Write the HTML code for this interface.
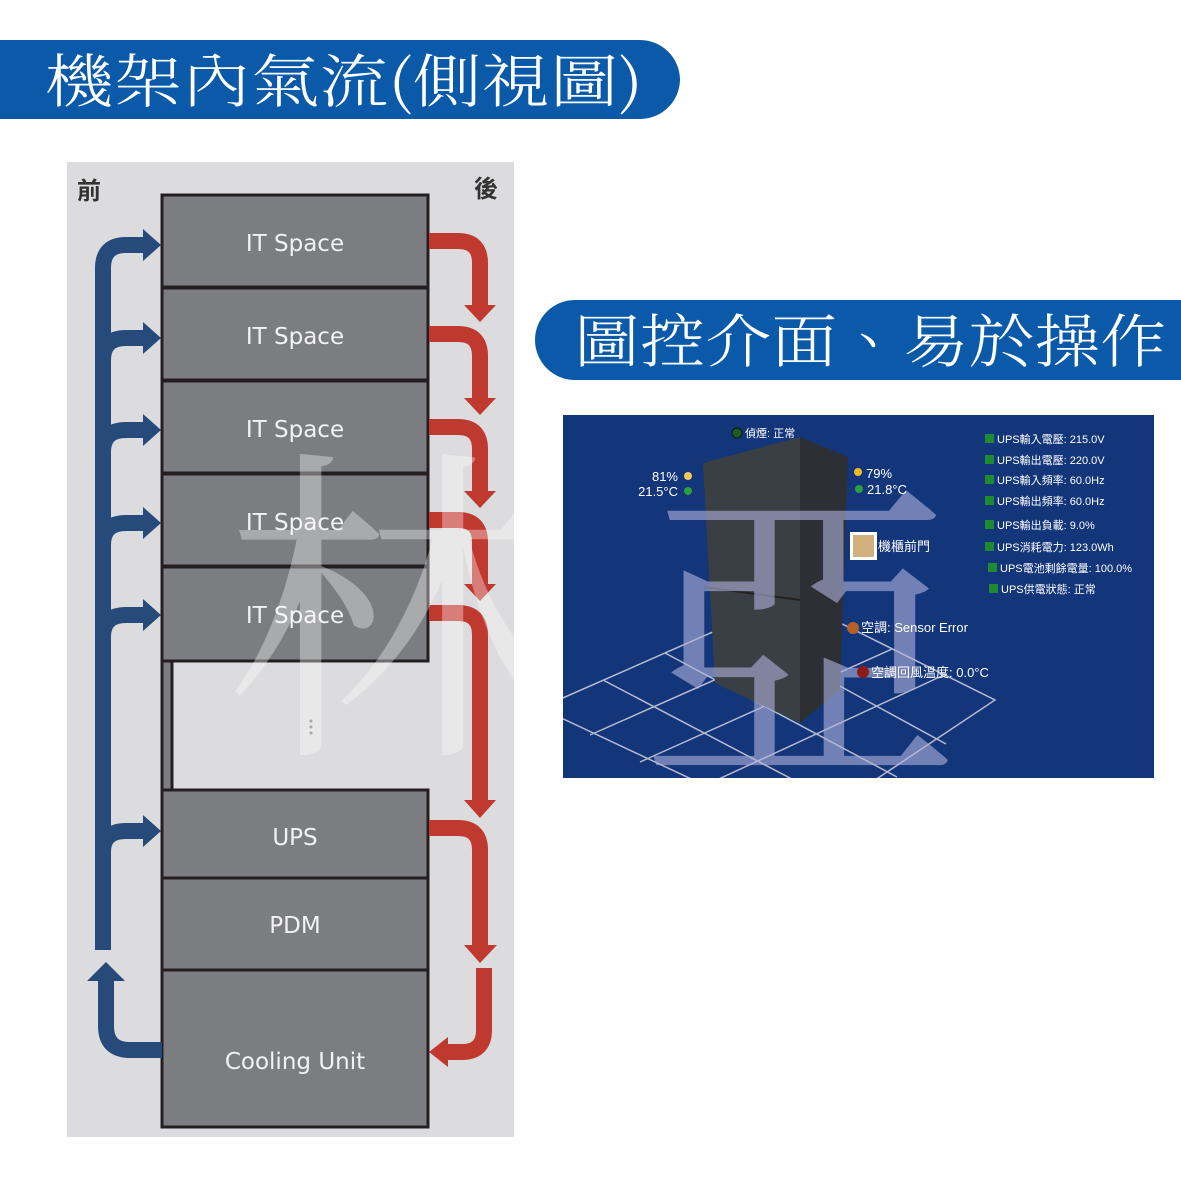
<!DOCTYPE html>
<html><head><meta charset="utf-8"><style>
html,body{margin:0;padding:0;background:#fff;width:1181px;height:1181px;overflow:hidden}
svg{display:block}
</style></head><body>
<svg width="1181" height="1181" viewBox="0 0 1181 1181" xmlns="http://www.w3.org/2000/svg">
<defs>
<clipPath id="ic"><rect x="563" y="415" width="591" height="363"/></clipPath>
</defs>
<!-- Banner 1 -->
<path d="M0,40 H640 A40,40 0 0 1 680,80 A40,40 0 0 1 640,119 H0 Z" fill="#0b5aa9"/>
<text x="45" y="102" fill="#fff" font-family="'Noto Serif CJK TC','Noto Serif CJK SC',serif" font-weight="300" font-size="58" textLength="598" lengthAdjust="spacingAndGlyphs">機架內氣流(側視圖)</text>
<!-- Banner 2 -->
<path d="M1181,300 H575 A40,40 0 0 0 535,340 A40,40 0 0 0 575,380 H1181 Z" fill="#0b5aa9"/>
<text x="574" y="362" fill="#fff" font-family="'Noto Serif CJK TC','Noto Serif CJK SC',serif" font-weight="300" font-size="58" textLength="592" lengthAdjust="spacingAndGlyphs">圖控介面、易於操作</text>

<!-- Left panel -->
<rect x="67" y="162" width="447" height="975" fill="#dcdcde"/>
<text x="77" y="199" font-family="'Noto Sans CJK TC',sans-serif" font-weight="bold" font-size="24" fill="#333">前</text>
<text x="474" y="197" font-family="'Noto Sans CJK TC',sans-serif" font-weight="bold" font-size="24" fill="#333">後</text>

<g stroke="#231f20" stroke-width="3" fill="#7c7d80">
<rect x="162" y="195" width="266" height="92"/>
<rect x="162" y="288" width="266" height="92"/>
<rect x="162" y="381" width="266" height="92"/>
<rect x="162" y="474" width="266" height="92"/>
<rect x="162" y="567" width="266" height="94"/>
<rect x="162" y="661" width="10" height="129"/>
<rect x="162" y="790" width="266" height="88"/>
<rect x="162" y="878" width="266" height="92"/>
<rect x="162" y="970" width="266" height="157"/>
</g>
<g fill="#f2f2f2" font-family="'DejaVu Sans','Liberation Sans',sans-serif" font-size="23" text-anchor="middle">
<text x="295" y="251">IT Space</text>
<text x="295" y="344">IT Space</text>
<text x="295" y="437">IT Space</text>
<text x="295" y="530">IT Space</text>
<text x="295" y="623">IT Space</text>
<text x="295" y="845">UPS</text>
<text x="295" y="933">PDM</text>
<text x="295" y="1069">Cooling Unit</text>
</g>
<g fill="#777"><circle cx="311" cy="721" r="1.5"/><circle cx="311" cy="727" r="1.5"/><circle cx="311" cy="733" r="1.5"/></g>

<!-- Blue arrows -->
<g stroke="#264a7a" stroke-width="16" fill="none">
<path d="M103,950 V268 Q103,245 126,245 H146"/>
<path d="M103,360 Q103,338 126,338 H146"/>
<path d="M103,452 Q103,430 126,430 H146"/>
<path d="M103,545 Q103,523 126,523 H146"/>
<path d="M103,637 Q103,615 126,615 H146"/>
<path d="M103,852 Q103,831 126,831 H146"/>
<path d="M162,1050 H130 Q106,1050 106,1026 V978"/>
</g>
<g fill="#264a7a">
<polygon points="143,229 161,245 143,261"/>
<polygon points="143,322 161,338 143,354"/>
<polygon points="143,414 161,430 143,446"/>
<polygon points="143,507 161,523 143,539"/>
<polygon points="143,599 161,615 143,631"/>
<polygon points="143,815 161,831 143,847"/>
<polygon points="87,981 106,962 125,981"/>
</g>

<!-- Red arrows -->
<g stroke="#c0392f" stroke-width="16" fill="none">
<path d="M429,241 H458 Q480,241 480,263 V306"/>
<path d="M429,334 H458 Q480,334 480,356 V399"/>
<path d="M429,427 H458 Q480,427 480,449 V492"/>
<path d="M429,520 H458 Q480,520 480,542 V585"/>
<path d="M429,613 H458 Q480,613 480,635 V800"/>
<path d="M429,828 H458 Q480,828 480,850 V946"/>
<path d="M484,968 V1030 Q484,1052 462,1052 H445"/>
</g>
<g fill="#c0392f">
<polygon points="464,305 496,305 480,322"/>
<polygon points="464,398 496,398 480,415"/>
<polygon points="464,491 496,491 480,508"/>
<polygon points="464,584 496,584 480,601"/>
<polygon points="464,800 496,800 480,818"/>
<polygon points="464,945 497,945 480,963"/>
<polygon points="448,1037 429,1052 448,1067"/>
</g>
<!-- watermark 林 -->
<text x="225" y="730" font-family="'Noto Serif CJK TC','Noto Serif CJK SC',serif" font-size="330" fill="#ffffff" fill-opacity="0.35">林</text>

<!-- Right monitor image -->
<rect x="563" y="415" width="591" height="363" fill="#13357a"/>
<g clip-path="url(#ic)">
<g stroke="#c8cbd8" stroke-width="1.5" fill="none" opacity="0.9">
<path d="M540,708 L790,598 L995,700 L800,830 Z"/>
<path d="M590,735 L841,624"/><path d="M640,762 L892,649"/><path d="M695,790 L944,675"/>
<path d="M603,680 L849,809"/><path d="M665,653 L897,777"/><path d="M728,625 L946,744"/>
</g>
<!-- cabinet -->
<polygon points="703,463 800,437 800,723 715,683" fill="#3a3f44"/>
<polygon points="800,437 848,457 840,690 800,723" fill="#2c3034"/>
<line x1="704" y1="587" x2="800" y2="600" stroke="#222" stroke-width="2"/>
<!-- watermark 亞 -->
<text x="640" y="752" font-family="'Noto Serif CJK TC','Noto Serif CJK SC',serif" font-size="320" fill="#b0b2dc" fill-opacity="0.6">亞</text>
</g>

<g font-family="'Liberation Sans','Noto Sans CJK TC',sans-serif" fill="#fff">
<circle cx="737" cy="433" r="5" fill="#1b5e20" stroke="#111"/>
<text x="745" y="437" font-size="11">偵煙: 正常</text>
<text x="678" y="481" font-size="13" text-anchor="end">81%</text>
<circle cx="688" cy="476" r="4" fill="#f3c85a"/>
<text x="678" y="496" font-size="13" text-anchor="end">21.5°C</text>
<circle cx="688" cy="491" r="4" fill="#2e9e3e"/>
<circle cx="858" cy="472" r="4" fill="#f3b920"/>
<text x="866" y="478" font-size="13">79%</text>
<circle cx="859" cy="489" r="4" fill="#2e9e3e"/>
<text x="867" y="494" font-size="13">21.8°C</text>
<rect x="850" y="532" width="27" height="28" fill="#fff"/>
<rect x="853" y="535" width="21" height="22" fill="#d3b17e"/>
<text x="878" y="551" font-size="13">機櫃前門</text>
<circle cx="853" cy="628" r="6" fill="#b5602a"/>
<text x="861" y="632" font-size="13">空調: Sensor Error</text>
<circle cx="863" cy="672" r="6" fill="#8e1a1a"/>
<text x="871" y="677" font-size="13">空調回風溫度: 0.0°C</text>
<g font-size="11">
<rect x="985" y="434" width="9" height="9" fill="#1f8a34"/><text x="997" y="443">UPS輸入電壓: 215.0V</text>
<rect x="985" y="455" width="9" height="9" fill="#1f8a34"/><text x="997" y="464">UPS輸出電壓: 220.0V</text>
<rect x="985" y="475" width="9" height="9" fill="#1f8a34"/><text x="997" y="484">UPS輸入頻率: 60.0Hz</text>
<rect x="985" y="496" width="9" height="9" fill="#1f8a34"/><text x="997" y="505">UPS輸出頻率: 60.0Hz</text>
<rect x="985" y="520" width="9" height="9" fill="#1f8a34"/><text x="997" y="529">UPS輸出負載: 9.0%</text>
<rect x="985" y="542" width="9" height="9" fill="#1f8a34"/><text x="997" y="551">UPS消耗電力: 123.0Wh</text>
<rect x="988" y="563" width="9" height="9" fill="#1f8a34"/><text x="1000" y="572">UPS電池剩餘電量: 100.0%</text>
<rect x="989" y="584" width="9" height="9" fill="#1f8a34"/><text x="1001" y="593">UPS供電狀態: 正常</text>
</g>
</g>
</svg>
</body></html>
